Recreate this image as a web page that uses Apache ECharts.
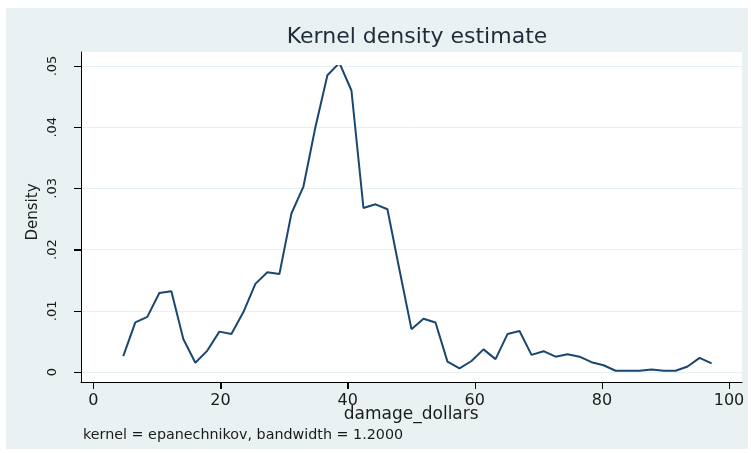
<!DOCTYPE html>
<html>
<head>
<meta charset="utf-8">
<script src="https://cdn.jsdelivr.net/npm/echarts@6/dist/echarts.min.js"></script>
<style>
  html, body { margin: 0; padding: 0; background: #ffffff; }
  #chart { width: 751px; height: 453px; }
</style>
</head>
<body>
<div id="chart"></div>
<script>
// Evaluation points of the density estimate (damage_dollars)
var damageDollars = [
  4.70, 6.59, 8.48, 10.37, 12.26, 14.14, 16.03, 17.92, 19.81, 21.70,
  23.59, 25.47, 27.36, 29.25, 31.14, 33.03, 34.91, 36.80, 38.69, 40.58,
  42.47, 44.36, 46.24, 48.13, 50.02, 51.91, 53.80, 55.68, 57.57, 59.46,
  61.35, 63.24, 65.12, 67.01, 68.90, 70.79, 72.68, 74.57, 76.45, 78.34,
  80.23, 82.12, 84.01, 85.89, 87.78, 89.67, 91.56, 93.45, 95.33, 97.22
];
// Estimated density at each point
var density = [
  0.0026, 0.0081, 0.0090, 0.0129, 0.0132, 0.0054, 0.0015, 0.0035, 0.0066, 0.0062,
  0.0098, 0.0144, 0.0163, 0.0160, 0.0259, 0.0303, 0.0400, 0.0485, 0.0505, 0.0460,
  0.0268, 0.0274, 0.0266, 0.0167, 0.0070, 0.0087, 0.0081, 0.0017, 0.0006, 0.0018,
  0.0037, 0.0021, 0.0062, 0.0067, 0.0028, 0.0034, 0.0025, 0.0029, 0.0025, 0.0016,
  0.0011, 0.0002, 0.0002, 0.0002, 0.0004, 0.0002, 0.0002, 0.0009, 0.0023, 0.0014
];
var xTicks = [0, 20, 40, 60, 80, 100];
var yTicks = [0, 0.01, 0.02, 0.03, 0.04, 0.05];

var chartTitle = 'Kernel density estimate';
var xTitle = 'damage_dollars';
var yTitle = 'Density';
var note = 'kernel = epanechnikov, bandwidth = 1.2000';

var FONT = 'DejaVu Sans';
var INK = '#1b1b1b';
var REGION = '#eaf1f3';
var TICK_LEN = 7;
var X_LO = -1.95, X_HI = 102.0;

function axisLine() {
  return { show: true, onZero: false, lineStyle: { color: '#000', width: 1 } };
}
function axisTick() {
  return { show: true, inside: false, length: TICK_LEN, lineStyle: { color: '#000', width: 1 } };
}

// Outward tick marks, placed through the axes' own coordinate systems
function yTickMark(params, api) {
  var p = api.coord([X_LO, api.value(0)]);
  return {
    type: 'line',
    shape: { x1: p[0] - TICK_LEN, y1: Math.round(p[1]) + 0.5, x2: p[0], y2: Math.round(p[1]) + 0.5 },
    style: { stroke: '#000', lineWidth: 1 }
  };
}
function xTickMark(params, api) {
  var p = api.coord([api.value(0), 0]);
  return {
    type: 'line',
    shape: { x1: Math.round(p[0]) + 0.5, y1: p[1], x2: Math.round(p[0]) + 0.5, y2: p[1] + TICK_LEN },
    style: { stroke: '#000', lineWidth: 1 }
  };
}

var points = damageDollars.map(function (x, i) { return [x, density[i]]; });

var chart = echarts.init(document.getElementById('chart'), null, { renderer: 'canvas' });
chart.setOption({
  animation: false,
  backgroundColor: '#ffffff',
  title: {
    text: chartTitle,
    left: 412,
    top: 21,
    textAlign: 'center',
    textStyle: { fontFamily: FONT, fontSize: 22, fontWeight: 'normal', color: '#1e2b38' }
  },
  graphic: [
    {
      type: 'rect', z: -10, silent: true,
      shape: { x: 6, y: 8, width: 742, height: 441 },
      style: { fill: REGION }
    },
    {
      type: 'text', left: 83, top: 428, silent: true,
      style: { text: note, fontFamily: FONT, fontSize: 14.3, fill: INK }
    }
  ],
  grid: [
    // plot region frame
    { left: 81, right: 9, top: 52, bottom: 71, show: true, backgroundColor: '#ffffff', borderWidth: 0, z: -5 },
    // value scale for density (ticks 0 .. .05)
    { left: 81, right: 9, top: 66, bottom: 81 },
    // value scale for damage_dollars (ticks 0 .. 100)
    { left: 93.4, right: 22, top: 52, bottom: 71 }
  ],
  xAxis: [
    {
      gridIndex: 0, type: 'value', min: X_LO, max: X_HI,
      axisLine: axisLine(),
      axisTick: { show: false }, axisLabel: { show: false }, splitLine: { show: false }
    },
    {
      gridIndex: 1, type: 'value', min: X_LO, max: X_HI, show: false
    },
    {
      gridIndex: 2, type: 'value', min: xTicks[0], max: xTicks[xTicks.length - 1], interval: 20,
      axisLine: axisLine(),
      axisTick: axisTick(),
      axisLabel: { show: true, margin: 11, fontFamily: FONT, fontSize: 16, color: INK },
      splitLine: { show: false },
      name: xTitle, nameLocation: 'middle', nameGap: 24, nameMoveOverlap: false,
      nameTextStyle: { fontFamily: FONT, fontSize: 17, color: INK }
    }
  ],
  yAxis: [
    {
      gridIndex: 0, type: 'value', min: -0.00163, max: 0.0523,
      axisLine: axisLine(),
      axisTick: { show: false }, axisLabel: { show: false }, splitLine: { show: false }
    },
    {
      gridIndex: 1, type: 'value', min: yTicks[0], max: yTicks[yTicks.length - 1], interval: 0.01,
      axisLine: axisLine(),
      axisTick: axisTick(),
      axisLabel: {
        show: true, rotate: 90, margin: 22, fontFamily: FONT, fontSize: 13, color: INK,
        formatter: function (v) { return v === 0 ? '0' : v.toFixed(2).replace(/^0/, ''); }
      },
      splitLine: { show: true, lineStyle: { color: '#e6eff1', width: 1 } },
      name: yTitle, nameLocation: 'middle', nameGap: 40, nameRotate: 90, nameMoveOverlap: false,
      nameTextStyle: { fontFamily: FONT, fontSize: 15, color: INK, padding: [0, 0, 0, 14] }
    },
    {
      gridIndex: 2, type: 'value', min: 0, max: 1, show: false
    }
  ],
  series: [
    {
      type: 'line',
      xAxisIndex: 1, yAxisIndex: 1,
      data: points,
      showSymbol: false, symbol: 'none',
      lineStyle: { color: '#1a476f', width: 2 },
      z: 5
    },
    {
      type: 'custom', xAxisIndex: 1, yAxisIndex: 1, clip: false, silent: true,
      data: yTicks.map(function (v) { return [v]; }),
      encode: { y: 0 },
      renderItem: yTickMark
    },
    {
      type: 'custom', xAxisIndex: 2, yAxisIndex: 2, clip: false, silent: true,
      data: xTicks.map(function (v) { return [v]; }),
      encode: { x: 0 },
      renderItem: xTickMark
    }
  ]
});
</script>
</body>
</html>
